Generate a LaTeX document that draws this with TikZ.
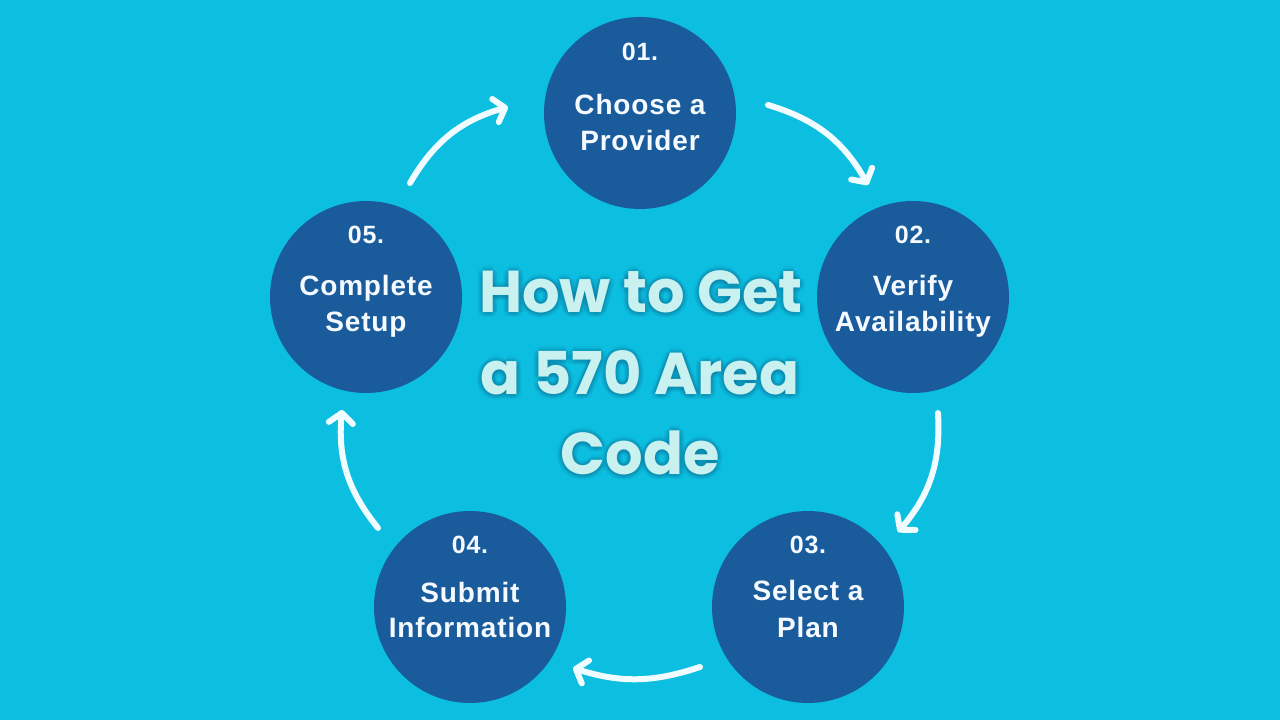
\documentclass[tikz,border=0pt]{standalone}
\usepackage{fontspec}
\setmainfont{Liberation Sans}[LetterSpace=3]
\newfontfamily\poppins{Poppins}
\usetikzlibrary{arrows.meta}
\definecolor{bg}{HTML}{0CBFE0}
\definecolor{disc}{HTML}{1A5B9C}
\definecolor{titlec}{HTML}{C9F1F0}
\definecolor{shadowc}{HTML}{0A6A92}
\definecolor{arrowc}{HTML}{F0FCFF}
\definecolor{textc}{HTML}{F4FAFF}
\tikzset{
  stepdisc/.style={circle, fill=disc, minimum size=192pt, inner sep=0pt},
  numtxt/.style={font=\bfseries\fontsize{25}{30}\selectfont, text=textc, anchor=base, inner sep=0pt},
  steptxt/.style={font=\bfseries\fontsize{28}{34}\selectfont, text=textc, anchor=base, inner sep=0pt},
  titletxt/.style={font=\poppins\bfseries\fontsize{59}{70}\selectfont, text=titlec, anchor=base, inner sep=0pt},
  titleshadow/.style={font=\poppins\bfseries\fontsize{59}{70}\selectfont, text=shadowc, text opacity=0.10, anchor=base, inner sep=0pt},
  flow/.style={draw=arrowc, line width=6pt, line cap=round, -{Straight Barb[length=10pt,width=24pt,round]}}
}
\begin{document}
\begin{tikzpicture}[x=1pt,y=1pt]
\fill[bg] (0,0) rectangle (1280,720);
\useasboundingbox (0,0) rectangle (1280,720);

% discs
\node[stepdisc] (c1) at (640,607) {};
\node[stepdisc] (c2) at (913,423) {};
\node[stepdisc] (c3) at (808,113) {};
\node[stepdisc] (c4) at (470,113) {};
\node[stepdisc] (c5) at (366,423) {};

% texts
\node[numtxt]  (n1) at (640,659) {01.};
\node[steptxt] (t1a) at (640,605) {Choose a};
\node[steptxt] (t1b) at (640,569) {Provider};

\node[numtxt]  (n2) at (913,476) {02.};
\node[steptxt] (t2a) at (913,424) {Verify};
\node[steptxt] (t2b) at (913,388) {Availability};

\node[numtxt]  (n3) at (808,166) {03.};
\node[steptxt] (t3a) at (808,119) {Select a};
\node[steptxt] (t3b) at (808,82) {Plan};

\node[numtxt]  (n4) at (470,166) {04.};
\node[steptxt] (t4a) at (470,117) {Submit};
\node[steptxt] (t4b) at (470,82) {Information};

\node[numtxt]  (n5) at (366,476) {05.};
\node[steptxt] (t5a) at (366,424) {Complete};
\node[steptxt] (t5b) at (366,388) {Setup};

% title with soft glow
\foreach \dx/\dy in {0/-3,2/-2,-2/-2,3/0,-3/0,0/3,2/2,-2/2,0/-5,4/-4,-4/-4,5/0,-5/0,0/5}{
  \node[titleshadow] at (641+\dx,407+\dy) {How to Get};
  \node[titleshadow] at (640+\dx,325+\dy) {a 570 Area};
  \node[titleshadow] at (640+\dx,245+\dy) {Code};
}
\node[titletxt] (h1) at (641,407) {How to Get};
\node[titletxt] (h2) at (640,325) {a 570 Area};
\node[titletxt] (h3) at (640,245) {Code};

% arrow end points
\coordinate (a1s) at (768,615);
\coordinate (a1e) at (868,535);
\coordinate (a2s) at (938,307);
\coordinate (a2e) at (898,188);
\coordinate (a3s) at (700,53);
\coordinate (a3e) at (573,52);
\coordinate (a4s) at (378,192);
\coordinate (a4e) at (342,310);
\coordinate (a5s) at (410,537);
\coordinate (a5e) at (508,613);

\draw[flow] (a1s) to[bend left=22] (a1e);
\draw[flow] (a2s) to[bend left=22] (a2e);
\draw[flow] (a3s) to[bend left=18] (a3e);
\draw[flow] (a4s) to[bend left=22] (a4e);
\draw[flow] (a5s) to[bend left=22] (a5e);
\end{tikzpicture}
\end{document}
